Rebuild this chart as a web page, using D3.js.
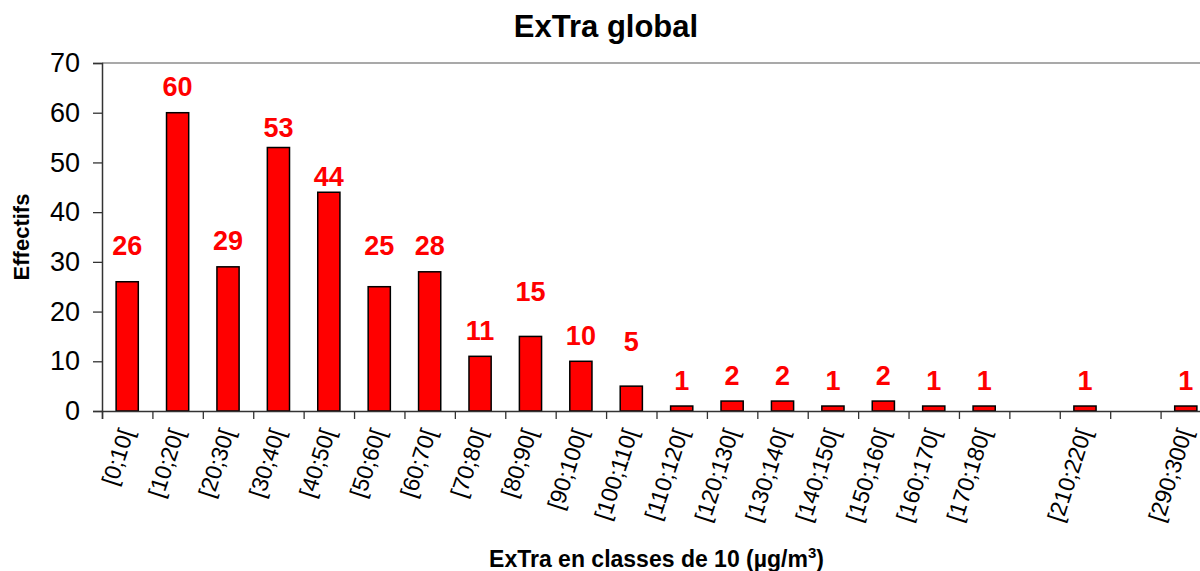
<!DOCTYPE html>
<html>
<head>
<meta charset="utf-8">
<script src="https://cdn.jsdelivr.net/npm/d3@7/dist/d3.min.js"></script>
<style>
  html, body { margin: 0; padding: 0; background: #fff; }
  svg { display: block; font-family: "Liberation Sans", Arial, sans-serif; }
</style>
</head>
<body>
<svg id="chart" width="1200" height="571"></svg>
<script>
// ---- data ----
const categories = ["[0;10[", "[10;20[", "[20;30[", "[30;40[", "[40;50[", "[50;60[", "[60;70[",
  "[70;80[", "[80;90[", "[90;100[", "[100;110[", "[110;120[", "[120;130[", "[130;140[",
  "[140;150[", "[150;160[", "[160;170[", "[170;180[", "", "[210;220[", "", "[290;300["];
const values = [26, 60, 29, 53, 44, 25, 28, 11, 15, 10, 5, 1, 2, 2, 1, 2, 1, 1, null, 1, null, 1];
const yTicks = [0, 10, 20, 30, 40, 50, 60, 70];
const title = "ExTra global";
const yTitle = "Effectifs";

// ---- layout / style (not data) ----
const plot = { left: 102, right: 1211, top: 63, bottom: 411 };
// extra lift (px) applied to individual data labels, as placed in the original
const labelLift = [10, 0, 0, -6, -10, 15, 0, 0, 19, 0, 19, 0, 0, 0, 0, 0, 0, 0, 0, 0, 0, 0];

const svg = d3.select("#chart");
const idx = d3.range(categories.length);

const x = d3.scaleBand().domain(idx).range([plot.left, plot.right])
  .paddingInner(0.56).paddingOuter(0.28);
const xb = d3.scaleLinear().domain([0, categories.length]).range([plot.left, plot.right]);
const y = d3.scaleLinear().domain([0, 70]).range([plot.bottom, plot.top]);

// top border of plot area
svg.append("line")
  .attr("x1", plot.left).attr("x2", plot.right)
  .attr("y1", y(70)).attr("y2", y(70))
  .attr("stroke", "#8c8c8c").attr("stroke-width", 1.5);

// y axis
const gy = svg.append("g").attr("transform", `translate(${plot.left},0)`)
  .call(d3.axisLeft(y).tickValues(yTicks).tickSize(9).tickPadding(13).tickFormat(d3.format("d")));
gy.select(".domain").attr("stroke", "#333").attr("stroke-width", 1.5);
gy.selectAll(".tick line").attr("stroke", "#333").attr("stroke-width", 1.3);
gy.selectAll(".tick text").attr("font-size", 27).attr("fill", "#000")
  .attr("font-family", "Liberation Sans, Arial, sans-serif");

// bars
svg.append("g").selectAll("rect")
  .data(idx.filter(i => values[i] != null))
  .join("rect")
  .attr("x", i => x(i))
  .attr("width", x.bandwidth())
  .attr("y", i => y(values[i]))
  .attr("height", i => y(0) - y(values[i]))
  .attr("fill", "#ff0000")
  .attr("stroke", "#000")
  .attr("stroke-width", 1.5);

// x axis: boundary ticks
const gx = svg.append("g").attr("transform", `translate(0,${plot.bottom})`)
  .call(d3.axisBottom(xb).tickValues(d3.range(categories.length + 1)).tickSize(8).tickFormat(""));
gx.select(".domain").attr("stroke", "#333").attr("stroke-width", 1.5);
gx.selectAll(".tick line").attr("stroke", "#333").attr("stroke-width", 1.3);

// x axis: category labels
const gxl = svg.append("g").attr("transform", `translate(0,${plot.bottom})`)
  .call(d3.axisBottom(x).tickSize(0).tickFormat(i => categories[i]));
gxl.select(".domain").remove();
gxl.selectAll(".tick text")
  .attr("font-size", 23)
  .attr("fill", "#000")
  .attr("font-family", "Liberation Sans, Arial, sans-serif")
  .attr("text-anchor", "end")
  .attr("x", 0).attr("y", 0).attr("dy", 0)
  .attr("transform", "translate(7,21) rotate(-72)");

// data labels
svg.append("g").selectAll("text")
  .data(idx.filter(i => values[i] != null))
  .join("text")
  .attr("x", i => x(i) + x.bandwidth() / 2)
  .attr("y", i => y(values[i]) - 16.5 - labelLift[i])
  .attr("text-anchor", "middle")
  .attr("font-size", 27)
  .attr("font-weight", "bold")
  .attr("fill", "#ff0000")
  .text(i => values[i]);

// title
svg.append("text")
  .attr("x", 606).attr("y", 37)
  .attr("text-anchor", "middle")
  .attr("font-size", 31).attr("font-weight", "bold")
  .text(title);

// y title
svg.append("text")
  .attr("transform", `translate(29,${(plot.top + plot.bottom) / 2}) rotate(-90)`)
  .attr("text-anchor", "middle")
  .attr("font-size", 22).attr("font-weight", "bold")
  .text(yTitle);

// x title with superscript
const xt = svg.append("text")
  .attr("x", (plot.left + plot.right) / 2).attr("y", 567)
  .attr("text-anchor", "middle")
  .attr("font-size", 23).attr("font-weight", "bold");
xt.append("tspan").text("ExTra en classes de 10 (µg/m");
xt.append("tspan").attr("font-size", 15).attr("dy", -9).text("3");
xt.append("tspan").attr("dy", 9).text(")");
</script>
</body>
</html>
